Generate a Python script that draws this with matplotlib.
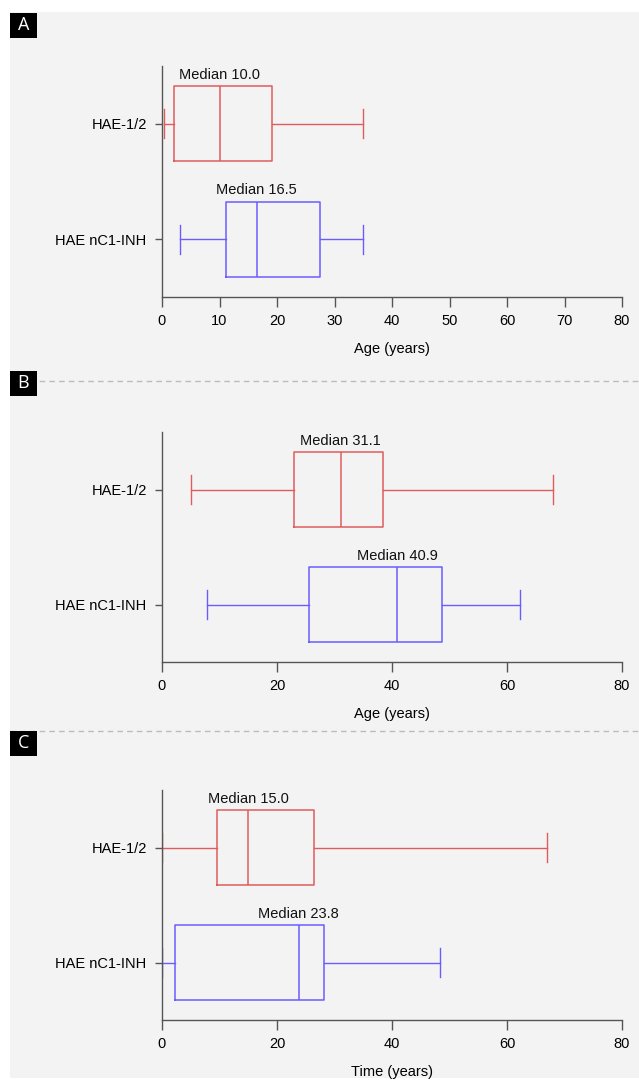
import matplotlib
matplotlib.use("Agg")
import matplotlib.pyplot as plt
from matplotlib.patches import Rectangle
from matplotlib.lines import Line2D

plt.rcParams['font.family'] = ['Liberation Sans', 'DejaVu Sans']

# groups (top to bottom)
groups = ['HAE-1/2', 'HAE nC1-INH']

# panel A: age at onset (years)  [whislo, q1, med, q3, whishi]
a_hae12 = [0.4, 2.1, 10.0, 19.1, 35.0]
a_nc1 = [3.1, 11.2, 16.5, 27.4, 35.0]
# panel B: age at diagnosis (years)
b_hae12 = [5.1, 23.0, 31.1, 38.4, 68.0]
b_nc1 = [7.8, 25.5, 40.9, 48.7, 62.3]
# panel C: diagnostic delay (years)
c_hae12 = [0.0, 9.6, 15.0, 26.4, 66.9]
c_nc1 = [0.0, 2.2, 23.8, 28.2, 48.3]

panel_letters = ['A', 'B', 'C']
xlabels = ['Age (years)', 'Age (years)', 'Time (years)']
xticks_list = [list(range(0, 81, 10)), list(range(0, 81, 20)), list(range(0, 81, 20))]

red = '#e05c5c'
blue = '#6a5cff'
bg = '#f3f3f3'
axis_col = '#555555'

W, H = 639, 1080
fig = plt.figure(figsize=(W / 100, H / 100), dpi=100)

# grey page background and dashed separators
fig.add_artist(Rectangle((10 / W, 1 - 1078 / H), 1 - 10 / W, (1078 - 12) / H,
                         transform=fig.transFigure, facecolor=bg, edgecolor='none', zorder=-10))
for ysep in [381, 731]:
    fig.add_artist(Line2D([10 / W, 1], [1 - ysep / H] * 2, transform=fig.transFigure,
                          color='#bbbbbb', lw=1.0, ls=(0, (4, 3)), zorder=-5))

# axes rectangles in pixels: top, bottom
ax_pix = [(66, 297), (432, 662), (790, 1020)]
letter_pix = [13, 371, 731]

data = [(a_hae12, a_nc1), (b_hae12, b_nc1), (c_hae12, c_nc1)]

for i, (top, bot) in enumerate(ax_pix):
    ax = fig.add_axes([162 / W, 1 - bot / H, 460 / W, (bot - top) / H])
    ax.patch.set_visible(False)
    s_top, s_bot = data[i]
    stats = []
    for vals, name in [(s_bot, groups[1]), (s_top, groups[0])]:
        stats.append(dict(whislo=vals[0], q1=vals[1], med=vals[2], q3=vals[3],
                          whishi=vals[4], label=name, fliers=[]))
    bp = ax.bxp(stats, positions=[0, 1], vert=False, widths=0.65, capwidths=0.25,
                showfliers=False, patch_artist=False)
    colors = [blue, red]
    for j, c in enumerate(colors):
        bp['boxes'][j].set(color=c, lw=1.1)
        bp['medians'][j].set(color=c, lw=1.1)
        for k in (2 * j, 2 * j + 1):
            bp['whiskers'][k].set(color=c, lw=1.0)
            bp['caps'][k].set(color=c, lw=1.0)
    for pos, vals in [(1, s_top), (0, s_bot)]:
        ax.text(vals[2], pos + 0.325 + 0.04, 'Median %.1f' % vals[2],
                ha='center', va='bottom', fontsize=10.5, color='#111111')

    ax.set_ylim(-0.5, 1.5)
    ax.set_xlim(0, 80)
    ax.set_xticks(xticks_list[i])
    ax.set_yticks([1, 0])
    ax.set_yticklabels(groups)
    for sp in ['top', 'right']:
        ax.spines[sp].set_visible(False)
    for sp in ['left', 'bottom']:
        ax.spines[sp].set_color(axis_col)
        ax.spines[sp].set_linewidth(1.0)
    ax.tick_params(axis='x', length=7, width=1.0, color=axis_col, pad=5, labelsize=10.5)
    ax.tick_params(axis='y', length=5, width=1.0, color=axis_col, pad=6, labelsize=10.5)
    ax.set_xlabel(xlabels[i], fontsize=10.5, labelpad=10)

    # panel letter
    ly = letter_pix[i]
    fig.add_artist(Rectangle((10 / W, 1 - (ly + 25) / H), 27 / W, 25 / H,
                             transform=fig.transFigure, facecolor='black',
                             edgecolor='none', zorder=2))
    fig.text(23.5 / W, 1 - (ly + 12.5) / H, panel_letters[i], color='white',
             fontsize=13, ha='center', va='center', family=['Open Sans', 'DejaVu Sans'],
             zorder=3)

fig.savefig('out.png', dpi=100)
